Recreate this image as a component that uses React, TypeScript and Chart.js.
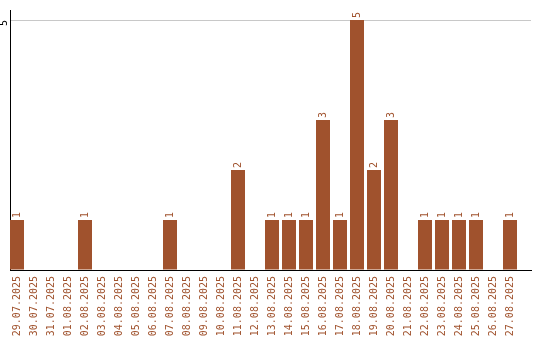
import React, { useEffect, useRef } from "react";
import { Chart, registerables } from "chart.js";

Chart.register(...registerables);

const dates = [
  "29.07.2025", "30.07.2025", "31.07.2025", "01.08.2025", "02.08.2025",
  "03.08.2025", "04.08.2025", "05.08.2025", "06.08.2025", "07.08.2025",
  "08.08.2025", "09.08.2025", "10.08.2025", "11.08.2025", "12.08.2025",
  "13.08.2025", "14.08.2025", "15.08.2025", "16.08.2025", "17.08.2025",
  "18.08.2025", "19.08.2025", "20.08.2025", "21.08.2025", "22.08.2025",
  "23.08.2025", "24.08.2025", "25.08.2025", "26.08.2025", "27.08.2025",
];

const counts = [
  1, 0, 0, 0, 1, 0, 0, 0, 0, 1,
  0, 0, 0, 2, 0, 1, 1, 1, 3, 1,
  5, 2, 3, 0, 1, 1, 1, 1, 0, 1,
];

const yTickLabels = ["5"];

const BROWN = "#A0522D";
const FONT_FAMILY = '"DejaVu Sans Mono", monospace';

const valueLabels = {
  id: "valueLabels",
  afterDatasetsDraw(chart: any) {
    const ctx = chart.ctx;
    const meta = chart.getDatasetMeta(0);
    ctx.save();
    ctx.fillStyle = BROWN;
    ctx.font = `10px ${FONT_FAMILY}`;
    ctx.textAlign = "left";
    ctx.textBaseline = "middle";
    meta.data.forEach((bar: any, i: number) => {
      const v = counts[i];
      if (!v) return;
      ctx.save();
      ctx.translate(bar.x, bar.y - 2);
      ctx.rotate(-Math.PI / 2);
      ctx.fillText(String(v), 0, 0);
      ctx.restore();
    });
    ctx.restore();
  },
};

export default function App() {
  const ref = useRef<HTMLCanvasElement>(null);

  useEffect(() => {
    if (!ref.current) return;
    const chart = new Chart(ref.current, {
      type: "bar",
      data: {
        datasets: [
          {
            data: counts.map((v, i) => ({ x: i, y: v })),
            backgroundColor: BROWN,
            borderWidth: 0,
            categoryPercentage: 1,
            barPercentage: 14 / 17,
          },
        ],
      },
      options: {
        animation: false,
        responsive: false,
        layout: { padding: { top: 10, right: 9, left: 0, bottom: 0 } },
        plugins: {
          legend: { display: false },
          tooltip: { enabled: false },
        },
        scales: {
          x: {
            type: "linear",
            offset: false,
            min: -7 / 17,
            max: -7 / 17 + 521 / 17,
            grid: { display: false, drawTicks: false, offset: false },
            border: { display: true, color: "#000", width: 1 },
            ticks: {
              stepSize: 1,
              includeBounds: false,
              autoSkip: false,
              minRotation: 90,
              maxRotation: 90,
              padding: 6,
              color: BROWN,
              font: { family: FONT_FAMILY, size: 10 },
              callback: (v: any) => dates[v as number] ?? "",
            },
            afterFit: (s: any) => {
              s.height = 70;
              s.paddingLeft = 0;
              s.paddingRight = 0;
            },
          },
          y: {
            min: 0,
            max: 5.2,
            grid: {
              drawTicks: false,
              color: (c: any) => (c.tick && c.tick.value === 5 ? "#c8c8c8" : "rgba(0,0,0,0)"),
            },
            border: { display: true, color: "#000", width: 1 },
            ticks: {
              stepSize: 5,
              includeBounds: false,
              minRotation: 90,
              maxRotation: 90,
              padding: 6,
              color: "#000",
              font: { family: FONT_FAMILY, size: 10 },
              callback: (v: any) => (v === 5 ? yTickLabels[0] : ""),
            },
            afterFit: (s: any) => {
              s.width = 10;
              s.paddingTop = 0;
              s.paddingBottom = 0;
            },
          },
        },
      },
      plugins: [valueLabels],
    });
    return () => chart.destroy();
  }, []);

  return (
    <div style={{ position: "fixed", left: 0, top: 0, width: 540, height: 340, background: "#fff" }}>
      <canvas ref={ref} width={540} height={340} style={{ display: "block" }} />
    </div>
  );
}
